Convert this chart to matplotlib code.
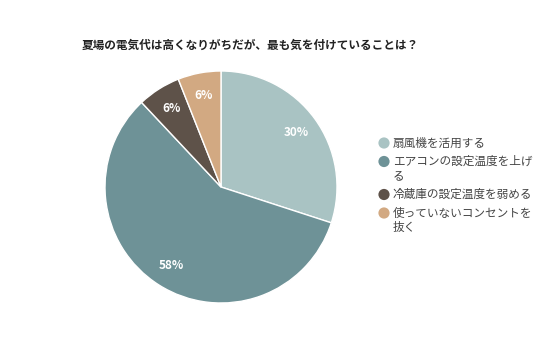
import matplotlib.pyplot as plt

plt.rcParams['font.family'] = ['Noto Sans CJK JP', 'DejaVu Sans']

# データ
title = "夏場の電気代は高くなりがちだが、最も気を付けていることは？"
labels = ["扇風機を活用する", "エアコンの設定温度を上げ\nる", "冷蔵庫の設定温度を弱める", "使っていないコンセントを\n抜く"]
values = [30, 58, 6, 6]
colors = ["#a9c3c3", "#6e9297", "#5e5249", "#d2a982"]

W, H = 536, 357
fig = plt.figure(figsize=(W / 100, H / 100), dpi=100)

# 円グラフ 中心(221,187) 半径116px
cx, cy, r = 221, 187, 116
ax = fig.add_axes([(cx - r) / W, 1 - (cy + r) / H, 2 * r / W, 2 * r / H])
wedges, texts, autotexts = ax.pie(values, colors=colors, startangle=90, counterclock=False,
                                  autopct='%d%%', pctdistance=0.8,
                                  wedgeprops=dict(edgecolor='white', linewidth=1))
for t in autotexts:
    t.set_color('white')
    t.set_fontsize(8.5)
    t.set_fontweight('bold')
ax.set_xlim(-1, 1)
ax.set_ylim(-1, 1)
ax.set_aspect('equal')

fig.text(82 / W, 1 - 45 / H, title, fontsize=8.4, fontweight='bold', va='center', ha='left',
         color='#222222')

# 凡例（1行目にマーカーを揃える）
lax = fig.add_axes([0, 0, 1, 1])
lax.set_xlim(0, W)
lax.set_ylim(H, 0)
lax.axis('off')
y = 143
line_h = 14.5
for lab, c in zip(labels, colors):
    lax.scatter([384], [y], s=65, color=c, edgecolor='none')
    for k, line in enumerate(lab.split('\n')):
        lax.text(393, y + k * line_h, line, fontsize=8.4, color='#444444', va='center', ha='left')
    y += 18.5 + line_h * (lab.count('\n'))

fig.savefig('out.png', dpi=100)
